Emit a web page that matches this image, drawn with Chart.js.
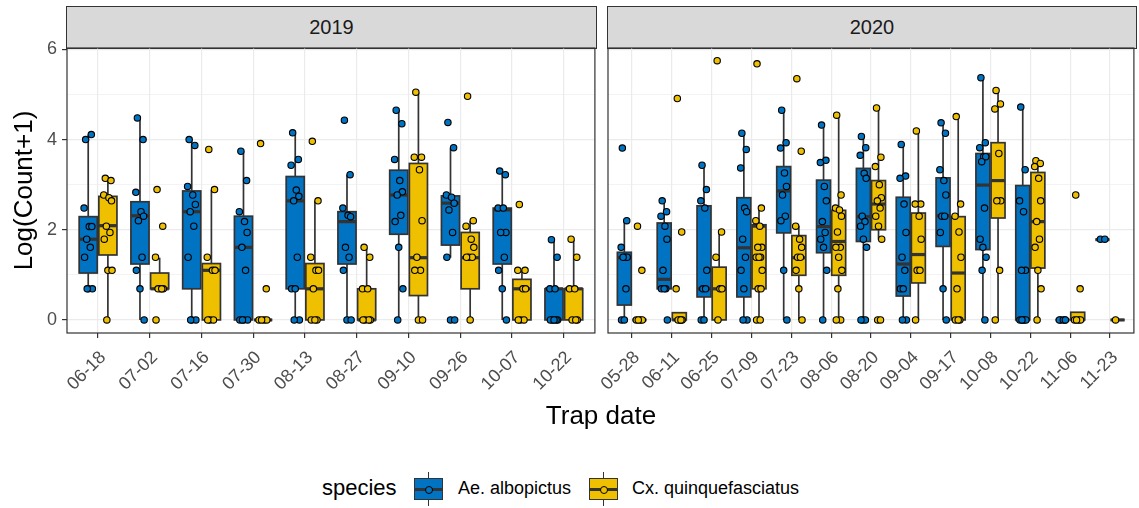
<!DOCTYPE html>
<html lang="en">
<head>
<meta charset="UTF-8">
<title>Trap counts by species</title>
<script src="https://cdn.jsdelivr.net/npm/chart.js"></script>
<style>
    body, html { margin: 0; padding: 0; background: #fff; }
    #wrap { position: relative; width: 1139px; height: 508px; font-family: "Liberation Sans", Arial, sans-serif; }
    canvas { position: absolute; }
    .strip {
        position: absolute; top: 6px; height: 43px; box-sizing: border-box;
        background: #d9d9d9; border: 1.2px solid #333;
        font-size: 20px; color: #1a1a1a; text-align: center; line-height: 40px;
    }
    .txt { position: absolute; white-space: nowrap; }
    .key { position: absolute; width: 29px; height: 34px; }
    .key .wh { position: absolute; left: 13.5px; top: 0; width: 1.5px; height: 34px; background: #333; }
    .key .bx { position: absolute; left: 0; top: 6px; width: 29px; height: 22px; box-sizing: border-box; border: 1.5px solid #333; }
    .key .md { position: absolute; left: 0; top: 15.5px; width: 29px; height: 3px; background: #333; }
    .key .pt { position: absolute; left: 10.5px; top: 13.5px; width: 8px; height: 8px; box-sizing: border-box; border-radius: 50%; border: 1px solid #000; }
</style>
</head>
<body>
<div id="wrap">
    <div class="strip" style="left:66px; width:531px;">2019</div>
    <div class="strip" style="left:607px; width:530px;">2020</div>
    <canvas id="c2019" width="600" height="373" style="left:0; top:30px;"></canvas>
    <canvas id="c2020" width="579" height="373" style="left:560px; top:30px;"></canvas>
    <div class="txt" style="left:0; width:1202px; top:400px; text-align:center; font-size:26px;">Trap date</div>
    <div class="txt" style="left:322px; top:475px; font-size:22px;">species</div>
    <div class="key" style="left:414px; top:472px;"><div class="wh"></div><div class="bx" style="background:#0073C2"></div><div class="md"></div><div class="pt" style="background:#0073C2"></div></div>
    <div class="txt" style="left:458px; top:478px; font-size:18px;">Ae. albopictus</div>
    <div class="key" style="left:589px; top:472px;"><div class="wh"></div><div class="bx" style="background:#EFC000"></div><div class="md"></div><div class="pt" style="background:#EFC000"></div></div>
    <div class="txt" style="left:632px; top:478px; font-size:18px;">Cx. quinquefasciatus</div>
</div>
<script>
    // trap dates per season
    const dates2019 = ['06-18', '07-02', '07-16', '07-30', '08-13', '08-27', '09-10', '09-26', '10-07', '10-22'];
    const dates2020 = ['05-28', '06-11', '06-25', '07-09', '07-23', '08-06', '08-20', '09-04', '09-17', '10-08', '10-22', '11-06', '11-23'];

    // box stats: [lower whisker, Q1, median, Q3, upper whisker] of log(count+1)
    const aeBox2019 = [
        [0.69, 1.04, 1.79, 2.29, 4.11], [0, 1.24, 2.31, 2.62, 4.48], [0, 0.69, 2.40, 2.86, 4.0],
        [0, 0, 1.61, 2.30, 3.74], [0, 0.69, 2.64, 3.18, 4.15], [0, 1.24, 2.18, 2.40, 3.22],
        [0, 1.90, 2.77, 3.32, 4.65], [1.38, 1.66, 2.59, 2.75, 3.82], [0, 1.24, 2.44, 2.48, 3.30],
        [0, 0, 0.69, 0.69, 1.78]
    ];
    const cxBox2019 = [
        [0, 1.44, 2.09, 2.74, 3.14], [0.69, 0.69, 0.69, 1.04, 1.38], [0, 0, 1.10, 1.25, 2.88],
        [0, 0, 0, 0, 0], [0, 0, 0.69, 1.25, 2.64], [0, 0, 0, 0.69, 1.60],
        [0, 0.54, 1.38, 3.47, 5.05], [0, 0.69, 1.38, 1.94, 2.20], [0, 0, 0.69, 0.90, 1.10],
        [0, 0, 0.69, 0.69, 1.78]
    ];
    const aeBox2020 = [
        [0, 0.33, 1.38, 1.50, 2.20], [0.69, 0.69, 0.90, 2.15, 2.64], [0, 0.51, 0.69, 2.53, 3.43],
        [0, 0.51, 1.60, 2.71, 4.15], [0, 1.93, 2.86, 3.40, 4.65], [0, 1.49, 2.07, 3.10, 4.32],
        [0, 1.74, 2.29, 3.36, 4.07], [0, 0.53, 1.24, 2.72, 3.89], [0, 1.63, 2.31, 3.15, 4.37],
        [0, 1.56, 2.99, 3.69, 5.37], [0, 0, 0, 2.98, 4.72], [0, 0, 0, 0, 0],
        [1.78, 1.78, 1.78, 1.78, 1.78]
    ];
    const cxBox2020 = [
        [0, 0, 0, 0, 0], [0, 0, 0, 0.16, 0.16], [0, 0, 0.69, 1.17, 1.94],
        [0, 0.69, 2.08, 2.11, 2.48], [0, 0.99, 1.38, 1.87, 2.09], [0, 0.99, 1.74, 2.43, 4.54],
        [1.78, 2.0, 2.57, 3.09, 4.70], [0, 0.82, 1.45, 2.37, 4.19], [0, 0, 1.04, 2.29, 4.51],
        [0, 2.26, 3.09, 3.93, 5.09], [0, 1.15, 2.18, 3.27, 3.53], [0, 0, 0, 0.17, 0.17],
        [0, 0, 0, 0, 0]
    ];

    // individual trap observations, log(count+1)
    const aePts2019 = [
        [4.0, 4.11, 2.48, 2.07, 2.07, 1.79, 1.61, 1.39, 0.69, 0.69, 0.69],
        [4.48, 4.0, 2.83, 2.40, 2.30, 2.20, 1.39, 1.10, 0.69, 0],
        [4.0, 3.87, 2.96, 2.77, 2.56, 2.40, 2.08, 1.39, 0, 0, 0],
        [3.74, 3.09, 2.40, 2.18, 1.94, 1.61, 1.10, 0, 0, 0, 0],
        [4.15, 3.56, 3.43, 2.88, 2.74, 2.64, 1.39, 0.69, 0.69, 0, 0],
        [4.43, 3.22, 2.48, 2.32, 2.29, 1.61, 1.39, 1.10, 0, 0],
        [4.65, 4.35, 3.56, 3.09, 2.84, 2.77, 2.32, 2.18, 1.61, 0.69, 0],
        [4.38, 3.82, 2.77, 2.72, 2.59, 2.44, 1.94, 1.39, 0, 0],
        [3.30, 3.22, 2.48, 2.48, 1.94, 1.94, 1.39, 1.10, 0.69, 0],
        [1.78, 1.39, 0.69, 0.69, 0, 0, 0, 0, 0]
    ];
    const cxPts2019 = [
        [3.14, 3.09, 2.77, 2.71, 2.64, 2.08, 1.94, 1.79, 1.10, 1.10, 0],
        [2.89, 2.08, 1.39, 0.69, 0.69, 0.69, 0.69, 0],
        [3.78, 2.89, 1.39, 1.10, 1.10, 0, 0, 0],
        [3.91, 0.69, 0, 0, 0, 0],
        [3.96, 2.64, 1.39, 1.10, 1.10, 0.69, 0, 0, 0],
        [1.61, 1.39, 0.69, 0.69, 0, 0, 0, 0],
        [5.05, 3.61, 3.61, 3.33, 2.20, 1.39, 1.10, 1.10, 0, 0],
        [4.96, 2.20, 2.08, 1.79, 1.61, 1.39, 1.39, 1.39, 0],
        [2.56, 1.10, 1.10, 0.69, 0.69, 0, 0, 0],
        [1.79, 1.39, 0.69, 0.69, 0, 0, 0]
    ];
    const aePts2020 = [
        [3.81, 2.20, 1.61, 1.39, 1.39, 1.39, 0.69, 0, 0],
        [2.64, 2.40, 2.30, 2.08, 1.79, 1.10, 0.69, 0.69, 0.69, 0],
        [3.43, 2.89, 2.64, 2.48, 1.10, 0.69, 0.69, 0, 0],
        [4.14, 3.78, 3.37, 2.48, 2.40, 1.79, 1.39, 1.10, 0.69, 0, 0],
        [4.65, 3.93, 3.81, 3.26, 2.96, 2.77, 2.30, 2.20, 1.10, 0],
        [4.32, 3.54, 3.49, 2.96, 2.64, 2.18, 1.94, 1.79, 1.61, 1.10, 0],
        [4.07, 3.82, 3.65, 3.25, 3.14, 2.30, 2.18, 2.08, 1.79, 1.61, 0, 0, 0],
        [3.89, 3.19, 3.14, 2.57, 1.94, 1.39, 1.10, 0.69, 0.69, 0, 0],
        [4.37, 4.14, 3.33, 3.09, 2.77, 2.30, 2.30, 1.94, 0.69, 0],
        [5.37, 3.93, 3.82, 3.62, 3.62, 3.51, 2.48, 1.79, 1.61, 1.39, 1.10, 0],
        [4.72, 3.33, 2.64, 2.40, 1.10, 1.10, 0, 0, 0, 0, 0],
        [0, 0, 0, 0, 0],
        [1.79, 1.79]
    ];
    const cxPts2020 = [
        [2.08, 1.10, 0, 0, 0, 0],
        [4.91, 1.95, 0.69, 0, 0, 0, 0],
        [5.75, 1.95, 1.39, 0.69, 0.69, 0],
        [5.68, 2.48, 2.20, 2.08, 1.61, 1.61, 1.39, 1.39, 1.39, 1.10, 0.69, 0.69, 0, 0],
        [5.35, 3.74, 2.08, 1.79, 1.61, 1.39, 1.39, 1.10, 0.69, 0],
        [4.54, 2.77, 2.48, 2.44, 2.30, 1.95, 1.61, 1.61, 1.39, 1.10, 0.69, 0, 0],
        [4.70, 3.61, 3.40, 3.00, 2.71, 2.64, 2.48, 2.30, 2.08, 1.79, 0, 0],
        [4.19, 2.57, 2.57, 2.30, 1.79, 1.10, 1.10, 0],
        [4.51, 2.57, 2.30, 1.95, 1.39, 0.69, 0, 0, 0],
        [5.09, 4.79, 4.68, 3.69, 2.64, 2.64, 1.10, 0],
        [3.53, 3.47, 3.40, 3.14, 2.64, 2.18, 1.79, 1.61, 1.10, 0.69, 0],
        [2.77, 0.69, 0, 0, 0, 0],
        [0]
    ];

    const AE_COL = '#0073C2';
    const CX_COL = '#EFC000';
    const DODGE = 0.19;     // offset of each species from the date centre
    const HALF_BOX = 0.175; // half box width, in category units
    // fixed horizontal spread so overlapping points stay visible
    const spread = [-0.05, 0.06, -0.08, 0.02, 0.07, -0.03, 0.04, -0.07, 0.0, 0.08, -0.02, 0.05, -0.06, 0.03];

    Chart.defaults.font.family = '"Liberation Sans", Arial, sans-serif';

    function toPoints(groups, off) {
        const out = [];
        groups.forEach((vals, i) => {
            vals.forEach((v, j) => out.push({ x: i + off + spread[j % spread.length], y: v }));
        });
        return out;
    }

    function boxPlugin(series) {
        return {
            id: 'boxes',
            beforeDatasetsDraw(chart) {
                const x = chart.scales.x, y = chart.scales.y, ctx = chart.ctx;
                ctx.save();
                ctx.strokeStyle = '#333';
                series.forEach(s => {
                    s.stats.forEach((st, i) => {
                        const [lw, q1, md, q3, uw] = st;
                        const xc = x.getPixelForValue(i + s.off);
                        const xl = x.getPixelForValue(i + s.off - HALF_BOX);
                        const xr = x.getPixelForValue(i + s.off + HALF_BOX);
                        ctx.lineWidth = 1.7;
                        ctx.beginPath();
                        ctx.moveTo(xc, y.getPixelForValue(uw));
                        ctx.lineTo(xc, y.getPixelForValue(q3));
                        ctx.moveTo(xc, y.getPixelForValue(q1));
                        ctx.lineTo(xc, y.getPixelForValue(lw));
                        ctx.stroke();
                        const top = y.getPixelForValue(q3), bot = y.getPixelForValue(q1);
                        ctx.fillStyle = s.color;
                        ctx.fillRect(xl, top, xr - xl, bot - top);
                        ctx.strokeRect(xl, top, xr - xl, bot - top);
                        ctx.lineWidth = 3.2;
                        ctx.beginPath();
                        ctx.moveTo(xl, y.getPixelForValue(md));
                        ctx.lineTo(xr, y.getPixelForValue(md));
                        ctx.stroke();
                    });
                });
                ctx.restore();
            }
        };
    }

    const borderPlugin = {
        id: 'panelBorder',
        afterDraw(chart) {
            const a = chart.chartArea, ctx = chart.ctx;
            ctx.save();
            ctx.strokeStyle = '#333';
            ctx.lineWidth = 1.2;
            ctx.strokeRect(a.left, a.top, a.right - a.left, a.bottom - a.top);
            ctx.restore();
        }
    };

    function makePanel(id, dates, aeBox, cxBox, aePts, cxPts, showY, yWidth, pad) {
        const ctx = document.getElementById(id).getContext('2d');
        return new Chart(ctx, {
            type: 'scatter',
            data: {
                datasets: [
                    { label: 'Ae. albopictus', data: toPoints(aePts, -DODGE), backgroundColor: AE_COL },
                    { label: 'Cx. quinquefasciatus', data: toPoints(cxPts, DODGE), backgroundColor: CX_COL }
                ]
            },
            options: {
                responsive: false,
                animation: false,
                events: [],
                layout: { padding: pad },
                elements: { point: { radius: 3.2, borderWidth: 1.1, borderColor: '#000' } },
                plugins: { legend: { display: false }, tooltip: { enabled: false } },
                scales: {
                    x: {
                        type: 'linear',
                        min: -0.6,
                        max: dates.length - 1 + 0.6,
                        afterBuildTicks: s => { s.ticks = dates.map((d, i) => ({ value: i })); },
                        afterFit: s => { s.height = 70; },
                        border: { display: false },
                        grid: { color: '#ebebeb', lineWidth: 1.2, tickLength: 5, tickColor: '#333', tickWidth: 1.2 },
                        ticks: {
                            autoSkip: false, minRotation: 45, maxRotation: 45, padding: 9, labelOffset: 5,
                            color: '#4d4d4d', font: { size: 18 },
                            callback: v => dates[v]
                        }
                    },
                    y: {
                        min: -0.29,
                        max: 6.03,
                        afterBuildTicks: s => { s.ticks = [0, 1, 2, 3, 4, 5, 6].map(v => ({ value: v })); },
                        afterFit: s => { s.width = yWidth; },
                        border: { display: false },
                        grid: {
                            color: '#ebebeb',
                            lineWidth: c => (c.tick && c.tick.value % 2 ? 0.6 : 1.2),
                            drawTicks: showY,
                            tickLength: 5,
                            tickWidth: 1.2,
                            tickColor: c => (c.tick && c.tick.value % 2 ? 'rgba(0,0,0,0)' : '#333')
                        },
                        ticks: {
                            display: showY, padding: 5, color: '#4d4d4d', font: { size: 18 },
                            callback: v => (v % 2 === 0 ? String(v) : '')
                        },
                        title: {
                            display: showY, text: 'Log(Count+1)', color: '#000',
                            font: { size: 26 }, padding: { top: 9, bottom: 0 }
                        }
                    }
                }
            },
            plugins: [boxPlugin([
                { stats: aeBox, off: -DODGE, color: AE_COL },
                { stats: cxBox, off: DODGE, color: CX_COL }
            ]), borderPlugin]
        });
    }

    makePanel('c2019', dates2019, aeBox2019, cxBox2019, aePts2019, cxPts2019, true, 67, { top: 18, right: 4, left: 0, bottom: 0 });
    makePanel('c2020', dates2020, aeBox2020, cxBox2020, aePts2020, cxPts2020, false, 48, { top: 18, right: 3, left: 0, bottom: 0 });
</script>
</body>
</html>
